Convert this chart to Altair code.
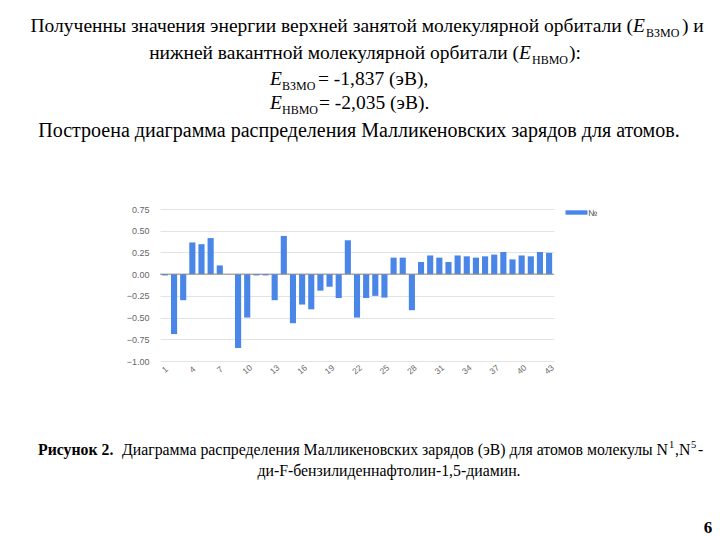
import altair as alt
import pandas as pd

# ---- data ----
atoms = list(range(1, 44))
charges = [-0.015, -0.69, -0.30, 0.365, 0.345, 0.415, 0.10, 0.0, -0.85, -0.50,
           -0.015, -0.015, -0.30, 0.44, -0.565, -0.35, -0.405, -0.19, -0.145, -0.275,
           0.39, -0.50, -0.275, -0.25, -0.27, 0.19, 0.19, -0.415, 0.14, 0.215,
           0.19, 0.14, 0.215, 0.205, 0.19, 0.205, 0.225, 0.255, 0.17, 0.215,
           0.205, 0.255, 0.245]
x_tick_values = list(range(1, 44, 3))
y_tick_values = [-1.0, -0.75, -0.5, -0.25, 0.0, 0.25, 0.5, 0.75]
series_name = "№"

df = pd.DataFrame({"atom": atoms, "charge": charges, "series": [series_name] * len(atoms)})

# ---- layout ----
LEFT, TOP, W, H = 160, 209, 394, 152
BLUE = "#4a86e8"
SERIF = "'Liberation Serif', 'Times New Roman', 'DejaVu Serif', serif"
SANS = "'Liberation Sans', Arial, sans-serif"
FS = 19.5

Y_AXIS = alt.Axis(values=y_tick_values, format=".2f", ticks=False, domain=False,
                  labelOverlap=False, labelFont=SANS, labelFontSize=9,
                  labelColor="#666666", labelPadding=11, gridColor="#e3e3e3")
Y_SCALE = alt.Scale(domain=[-1.0, 0.75], nice=False)

bars = alt.Chart(df).mark_bar(color=BLUE).encode(
    x=alt.X("atom:O", title=None,
            scale=alt.Scale(paddingInner=0.33, paddingOuter=0.2),
            axis=alt.Axis(values=x_tick_values, labelAngle=-40, labelAlign="center",
                          labelBaseline="middle", labelPadding=8, ticks=False, domain=False,
                          labelFont=SANS, labelFontSize=8.5, labelColor="#666666", grid=False)),
    y=alt.Y("charge:Q", title=None, scale=Y_SCALE, axis=Y_AXIS),
    color=alt.Color("series:N", scale=alt.Scale(range=[BLUE]),
                    legend=alt.Legend(title=None, orient="none", legendX=409, legendY=-4,
                                      symbolType="M-1.5,-0.3H1.5V0.3H-1.5Z", symbolSize=216,
                                      labelFont=SANS, labelFontSize=8.5, labelColor="#444444",
                                      symbolStrokeWidth=0, padding=0)),
)

zero = alt.Chart(alt.Data(values=[{"charge": 0}])).mark_rule(color="#8a8a8a", strokeWidth=1).encode(
    y=alt.Y("charge:Q", title=None, scale=Y_SCALE, axis=Y_AXIS))


def txt(s, x, y, size=FS, align="left", italic=False, bold=False, font=SERIF):
    kw = dict(font=font, fontSize=size, align=align, baseline="alphabetic", color="#000000")
    if italic:
        kw["fontStyle"] = "italic"
    if bold:
        kw["fontWeight"] = "bold"
    return alt.Chart(alt.Data(values=[{}])).mark_text(**kw).encode(
        x=alt.value(x - LEFT), y=alt.value(y - TOP), text=alt.value(s))


SUB = 12
CAP = 15.8
texts = [
    # line 1
    txt("Полученны значения энергии верхней занятой молекулярной орбитали (", 633, 32, align="right"),
    txt("E", 633, 32, italic=True),
    txt("ВЗМО", 646, 37, size=SUB),
    txt(") и", 682, 32),
    # line 2
    txt("нижней вакантной молекулярной орбитали (", 519, 59, align="right"),
    txt("E", 519, 59, italic=True),
    txt("НВМО", 532, 64, size=SUB),
    txt("):", 569, 59),
    # line 3
    txt("E", 270, 85, italic=True),
    txt("ВЗМО", 282, 90, size=SUB),
    txt(" = -1,837 (эВ),", 318, 85),
    # line 4
    txt("E", 270, 109, italic=True),
    txt("НВМО", 282, 114, size=SUB),
    txt(" = -2,035 (эВ).", 319, 109),
    # line 5
    txt("Построена диаграмма распределения Малликеновских зарядов для атомов.", 359, 137,
        size=20, align="center"),
    # caption
    txt("Рисунок 2.", 38, 455, size=CAP, bold=True),
    txt("Диаграмма распределения Малликеновских зарядов (эВ) для атомов молекулы N", 668, 455,
        size=CAP, align="right"),
    txt("1", 669, 448, size=10.5),
    txt(",N", 675, 455, size=CAP),
    txt("5", 691, 448, size=10.5),
    txt("-", 698, 455, size=CAP),
    txt("ди-F-бензилиденнафтолин-1,5-диамин.", 389, 476, size=CAP, align="center"),
    # page number
    txt("6", 708, 533, size=17, bold=True, align="center"),
]

chart = alt.layer(bars, zero, *texts).properties(
    width=W, height=H,
    autosize=alt.AutoSizeParams(type="none"),
    padding={"left": LEFT, "top": TOP, "right": 720 - LEFT - W, "bottom": 540 - TOP - H},
    background="white",
).configure_view(stroke=None)

chart.save("out.html", embed_options={"renderer": "svg", "actions": False})
